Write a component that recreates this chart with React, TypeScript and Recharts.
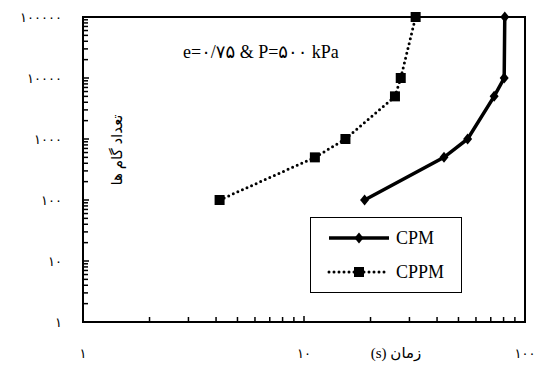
import React from "react";
import { LineChart, Line, XAxis, YAxis, Legend, ReferenceArea } from "recharts";

// CPM (solid line, diamonds)
const cpmTime = [18.8, 43, 55, 72.5, 80.5, 81];
const cpmCycles = [100, 500, 1000, 5000, 10000, 100000];

// CPPM (dotted line, squares)
const cppmTime = [4.15, 11.2, 15.4, 25.8, 27.4, 32];
const cppmCycles = [100, 500, 1000, 5000, 10000, 100000];

const xMajor = [1, 10, 100];
const xLabels = ["۱", "۱۰", "۱۰۰"];
const yMajor = [1, 10, 100, 1000, 10000, 100000];
const yLabels = ["۱", "۱۰", "۱۰۰", "۱۰۰۰", "۱۰۰۰۰", "۱۰۰۰۰۰"];
const minorSteps = [1, 2, 3, 4, 5, 6, 7, 8, 9];

const logTicks = (major: number[]) =>
  major.slice(0, -1).flatMap((d) => minorSteps.map((m) => m * d)).concat(major[major.length - 1]);

const xTicks = logTicks(xMajor);
const yTicks = logTicks(yMajor);

const cpmData = cpmTime.map((t, i) => ({ t, n: cpmCycles[i] }));
const cppmData = cppmTime.map((t, i) => ({ t, n: cppmCycles[i] }));

const font = '"Liberation Serif", "DejaVu Sans", serif';

const XTick = ({ x, y, payload }: any) => {
  const i = xMajor.indexOf(payload.value);
  return (
    <g>
      <line x1={x} x2={x} y1={y} y2={y - (i >= 0 ? 6 : 5)} stroke="#000" strokeWidth={1.5} />
      {i >= 0 && (
        <text x={x} y={y + 36} textAnchor="middle" fontSize={13} fontFamily={font} fill="#000">
          {xLabels[i]}
        </text>
      )}
    </g>
  );
};

const YTick = ({ x, y, payload }: any) => {
  const i = yMajor.indexOf(payload.value);
  return (
    <g>
      <line x1={x} x2={x + (i >= 0 ? 6 : 5)} y1={y} y2={y} stroke="#000" strokeWidth={1.5} />
      {i >= 0 && (
        <text x={x - 21} y={y + 5} textAnchor="end" fontSize={13} fontFamily={font} fill="#000">
          {yLabels[i]}
        </text>
      )}
    </g>
  );
};

const Diamond = ({ cx, cy, index }: any) => (
  <path key={index} d={`M${cx},${cy - 5.5}L${cx + 4.5},${cy}L${cx},${cy + 5.5}L${cx - 4.5},${cy}Z`} fill="#000" />
);

const Square = ({ cx, cy, index }: any) => (
  <rect key={index} x={cx - 5} y={cy - 5} width={10} height={10} fill="#000" />
);

const LegendBox = () => (
  <div style={{ width: 152, height: 76, border: "1px solid #000", boxSizing: "border-box", background: "#fff" }}>
    <svg width={150} height={74} style={{ display: "block" }}>
      <line x1={18} x2={78} y1={20} y2={20} stroke="#000" strokeWidth={3.5} />
      <Diamond cx={48} cy={20} />
      <text x={85} y={26} fontSize={18} fontFamily={font}>CPM</text>
      <line x1={18} x2={78} y1={54} y2={54} stroke="#000" strokeWidth={3} strokeDasharray="0 5" strokeLinecap="round" />
      <Square cx={48} cy={54} />
      <text x={85} y={60} fontSize={18} fontFamily={font}>CPPM</text>
    </svg>
  </div>
);

export default function App() {
  return (
    <div style={{ position: "absolute", left: 0, top: 0, width: 545, height: 372, background: "#fff" }}>
      <LineChart width={545} height={372} margin={{ top: 17, right: 20, bottom: 10, left: 0 }}>
        <XAxis
          dataKey="t"
          type="number"
          scale="log"
          domain={[1, 100]}
          ticks={xTicks}
          interval={0}
          height={40}
          tickSize={0}
          tickMargin={0}
          tickLine={false}
          axisLine={{ stroke: "#000", strokeWidth: 2 }}
          tick={<XTick />}
        />
        <YAxis
          dataKey="n"
          type="number"
          scale="log"
          domain={[1, 100000]}
          ticks={yTicks}
          interval={0}
          width={83}
          tickSize={0}
          tickMargin={0}
          tickLine={false}
          axisLine={{ stroke: "#000", strokeWidth: 2 }}
          tick={<YTick />}
        />
        <ReferenceArea x1={1} x2={100} y1={1} y2={100000} fill="none" stroke="#000" strokeWidth={2} />
        <Line
          data={cpmData}
          dataKey="n"
          name="CPM"
          type="linear"
          stroke="#000"
          strokeWidth={3.5}
          dot={<Diamond />}
          isAnimationActive={false}
        />
        <Line
          data={cppmData}
          dataKey="n"
          name="CPPM"
          type="linear"
          stroke="#000"
          strokeWidth={3}
          strokeDasharray="0 5"
          strokeLinecap="round"
          dot={<Square />}
          isAnimationActive={false}
        />
        <Legend
          layout="vertical"
          align="center"
          verticalAlign="middle"
          content={<LegendBox />}
          wrapperStyle={{ position: "absolute", left: 310, top: 217, width: 152, height: 76 }}
        />
      </LineChart>
      <div style={{ position: "absolute", left: 183, top: 41, fontFamily: font, fontSize: 18, whiteSpace: "nowrap" }}>
        e=۰/۷۵ &amp; P=۵۰۰ kPa
      </div>
      <div
        style={{
          position: "absolute",
          left: 117,
          top: 150,
          transform: "translate(-50%, -50%) rotate(-90deg)",
          fontFamily: font,
          fontSize: 15,
          whiteSpace: "nowrap",
          direction: "rtl",
        }}
      >
        تعداد گام ها
      </div>
      <div
        style={{
          position: "absolute",
          left: 396,
          top: 353,
          transform: "translate(-50%, -50%)",
          fontFamily: font,
          fontSize: 15,
          whiteSpace: "nowrap",
          direction: "rtl",
        }}
      >
        زمان (s)
      </div>
    </div>
  );
}
